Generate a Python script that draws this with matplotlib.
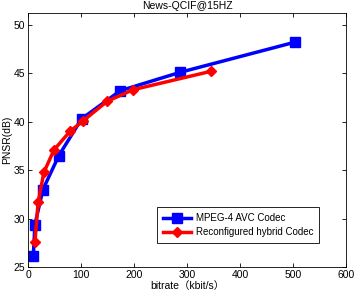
import numpy as np
import matplotlib
matplotlib.use('Agg')
import matplotlib.pyplot as plt

plt.rcParams['font.family'] = ['Liberation Sans', 'Noto Sans CJK SC']

# MPEG-4 AVC Codec
avc_rate = [10, 13, 28, 58, 101, 174, 287, 503]
avc_psnr = [26.2, 29.4, 33.0, 36.5, 40.3, 43.2, 45.1, 48.2]

# Reconfigured hybrid Codec
hyb_rate = [13, 19, 30, 49, 79, 104, 149, 198, 345]
hyb_psnr = [27.6, 31.7, 34.8, 37.1, 39.0, 40.1, 42.1, 43.3, 45.2]

xticks = [0, 100, 200, 300, 400, 500, 600]
yticks = [25, 30, 35, 40, 45, 50]

fig = plt.figure(figsize=(3.55, 2.92), dpi=100)
ax = fig.add_axes([0.079, 0.085, 0.896, 0.87])

ax.plot(avc_rate, avc_psnr, color='#0000ff', lw=2.5, marker='s', ms=6.5,
        label='MPEG-4 AVC Codec')
ax.plot(hyb_rate, hyb_psnr, color='#ff0000', lw=2.5, marker='D', ms=5.5,
        label='Reconfigured hybrid Codec')

ax.set_xlim(0, 600)
ax.set_ylim(25, 51.2)
ax.set_xticks(xticks)
ax.set_yticks(yticks)
ax.tick_params(direction='in', top=True, right=True, labelsize=7.5, length=3,
               width=0.6, pad=2)
for s in ax.spines.values():
    s.set_linewidth(0.6)

ax.set_title('News-QCIF@15HZ', fontsize=7.5, pad=3)
ax.set_xlabel('bitrate（kbit/s）', fontsize=7.5, labelpad=1)
ax.set_ylabel('PNSR(dB)', fontsize=7.5, labelpad=1)

leg = ax.legend(loc='lower right', bbox_to_anchor=(0.93, 0.075), fontsize=7,
                fancybox=False, edgecolor='black', framealpha=1,
                handlelength=2.9, borderpad=0.6, labelspacing=0.45,
                handletextpad=0.5)
leg.get_frame().set_linewidth(0.6)

fig.savefig('out.png', dpi=100)
